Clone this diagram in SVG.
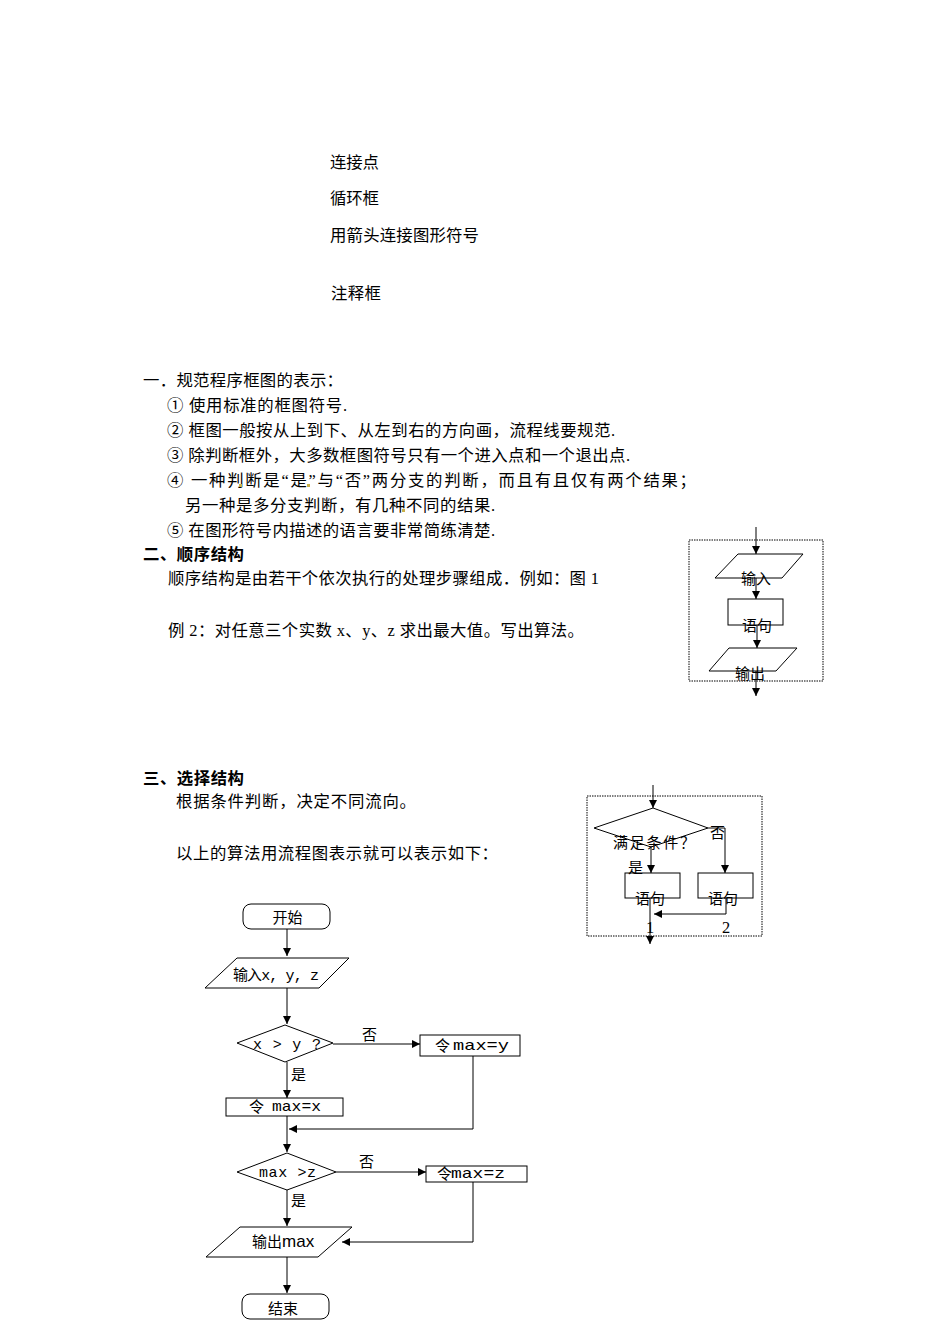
<svg xmlns="http://www.w3.org/2000/svg" width="950" height="1344" viewBox="0 0 950 1344">
<defs>
<style>
.t{font-family:"Liberation Serif","Noto Sans CJK SC",serif;font-size:16.4px;fill:#000}
.b{font-weight:bold}
.f{font-family:"Noto Sans CJK SC",sans-serif;font-size:15px;fill:#000}
.m{font-family:"Liberation Mono","Noto Sans CJK SC",monospace;font-size:15px;fill:#000}
.s{fill:#fff;stroke:#000;stroke-width:1}
.c{fill:none;stroke:#000;stroke-width:1}
.d{fill:none;stroke:#000;stroke-width:1;stroke-dasharray:1.5 1}
.dot{fill:#c9b04a}
</style>
<marker id="ah" viewBox="0 0 10 10" refX="10" refY="5" markerWidth="9" markerHeight="8" markerUnits="userSpaceOnUse" orient="auto">
<path d="M0,0 L10,5 L0,10 Z" fill="#000"/>
</marker>
</defs>
<rect width="950" height="1344" fill="#fff"/>

<g id="text-body">
<text class="t" x="330" y="168" textLength="49" lengthAdjust="spacing">连接点</text>
<text class="t" x="330" y="204" textLength="49" lengthAdjust="spacing">循环框</text>
<text class="t" x="330" y="241" textLength="149" lengthAdjust="spacing">用箭头连接图形符号</text>
<text class="t" x="331" y="299" textLength="50" lengthAdjust="spacing">注释框</text>
<text class="t" x="143" y="386" textLength="200" lengthAdjust="spacing">一．规范程序框图的表示：</text>
<text class="t" x="167" y="411" textLength="180" lengthAdjust="spacing">① 使用标准的框图符号.</text>
<text class="t" x="167" y="436" textLength="448" lengthAdjust="spacing">② 框图一般按从上到下、从左到右的方向画，流程线要规范.</text>
<text class="t" x="167" y="461" textLength="463" lengthAdjust="spacing">③ 除判断框外，大多数框图符号只有一个进入点和一个退出点.</text>
<text class="t" x="167" y="486" textLength="529" lengthAdjust="spacing">④ 一种判断是“是”与“否”两分支的判断，而且有且仅有两个结果；</text>
<text class="t" x="185" y="511" textLength="310" lengthAdjust="spacing">另一种是多分支判断，有几种不同的结果.</text>
<text class="t" x="167" y="536" textLength="328" lengthAdjust="spacing">⑤ 在图形符号内描述的语言要非常简练清楚.</text>
<rect class="dot" x="239" y="484" width="3" height="3"/>
<rect class="dot" x="307" y="484" width="3" height="3"/>
<rect class="dot" x="402" y="509" width="3" height="3"/>
<text class="t b" x="143" y="560" textLength="101" lengthAdjust="spacing">二、顺序结构</text>
<text class="t" x="168" y="584" textLength="431" lengthAdjust="spacing">顺序结构是由若干个依次执行的处理步骤组成．例如：图 1</text>
<text class="t" x="168" y="636" textLength="416" lengthAdjust="spacing">例 2：对任意三个实数 x、y、z 求出最大值。写出算法。</text>
<text class="t b" x="143" y="784" textLength="101" lengthAdjust="spacing">三、选择结构</text>
<text class="t" x="176" y="807" textLength="240" lengthAdjust="spacing">根据条件判断，决定不同流向。</text>
<text class="t" x="176" y="859" textLength="322" lengthAdjust="spacing">以上的算法用流程图表示就可以表示如下：</text>
</g>

<g id="fig1">
<rect class="d" x="689" y="540" width="134" height="141"/>
<g id="fig1-input"><polygon class="s" points="738,554 803,554 782,578 715,578"/><text class="f" x="756" y="584" font-size="15.5" text-anchor="middle">输入</text></g>
<g id="fig1-stmt"><rect class="s" x="728" y="599" width="55" height="26"/><text class="f" x="757" y="631" font-size="15.5" text-anchor="middle">语句</text></g>
<g id="fig1-output"><polygon class="s" points="729,648 797,648 776,671 709,671"/><text class="f" x="750" y="679" font-size="15.5" text-anchor="middle">输出</text></g>
<g id="fig1-connectors">
<line class="c" x1="756" y1="527" x2="756" y2="554" marker-end="url(#ah)"/>
<line class="c" x1="756" y1="578" x2="756" y2="599" marker-end="url(#ah)"/>
<line class="c" x1="757" y1="625" x2="757" y2="648" marker-end="url(#ah)"/>
<line class="c" x1="756" y1="671" x2="756" y2="696" marker-end="url(#ah)"/>
</g>
</g>

<g id="fig2">
<rect class="d" x="587" y="796" width="175" height="140"/>
<g id="fig2-cond"><polygon class="s" points="594,828 653,808 708,828 651,847"/><text class="f" x="613" y="848" textLength="82" lengthAdjust="spacing">满足条件？</text></g>
<g id="fig2-s1"><rect class="s" x="625" y="873" width="55" height="25"/><text class="f" x="650" y="904" font-size="15.5" text-anchor="middle">语句</text></g>
<g id="fig2-s2"><rect class="s" x="698" y="873" width="55" height="25"/><text class="f" x="723" y="904" font-size="15.5" text-anchor="middle">语句</text></g>
<text class="f" x="710" y="838">否</text>
<text class="f" x="628" y="873">是</text>
<text class="t" x="646" y="933">1</text>
<text class="t" x="722" y="933">2</text>
<g id="fig2-connectors">
<line class="c" x1="653" y1="785" x2="653" y2="808" marker-end="url(#ah)"/>
<polyline class="c" points="708,828 725,828 725,873" marker-end="url(#ah)"/>
<line class="c" x1="651" y1="847" x2="651" y2="873" marker-end="url(#ah)"/>
<polyline class="c" points="726,898 726,914 654,914" marker-end="url(#ah)"/>
<line class="c" x1="650" y1="898" x2="650" y2="944" marker-end="url(#ah)"/>
</g>
</g>

<g id="flowchart">
<g id="n-start"><rect class="s" x="243" y="904" width="87" height="25" rx="8"/><text class="f" x="287.5" y="922.5" font-size="17.5" text-anchor="middle">开始</text></g>
<g id="n-input"><polygon class="s" points="237,958 349,958 319,988 205,988"/><text class="f" x="233" y="980" textLength="86" lengthAdjust="spacing">输入<tspan class="m">x, y, z</tspan></text></g>
<g id="n-d1"><polygon class="s" points="237,1043 285,1025 333,1043 285,1062"/><text class="m" x="253" y="1049" textLength="68" lengthAdjust="spacing">x &gt; y ?</text></g>
<g id="n-maxy"><rect class="s" x="420" y="1035" width="100" height="21"/><text class="f" x="435" y="1051" font-size="14">令</text><text class="m" x="453" y="1050" font-size="16" textLength="56" lengthAdjust="spacingAndGlyphs">max=y</text></g>
<g id="n-maxx"><rect class="s" x="226" y="1098" width="117" height="18"/><text class="f" x="249" y="1112" font-size="14">令</text><text class="m" x="272" y="1111" font-size="16" textLength="49" lengthAdjust="spacingAndGlyphs">max=x</text></g>
<g id="n-d2"><polygon class="s" points="237,1172 287,1153 336,1172 287,1190"/><text class="m" x="259" y="1177" textLength="57" lengthAdjust="spacing">max &gt;z</text></g>
<g id="n-maxz"><rect class="s" x="426" y="1166" width="101" height="16"/><text class="f" x="437" y="1179" font-size="14">令</text><text class="m" x="451" y="1178" font-size="16" textLength="54" lengthAdjust="spacingAndGlyphs">max=z</text></g>
<g id="n-output"><polygon class="s" points="240,1227 352,1227 318,1257 206,1257"/><text class="f" x="252" y="1247" font-size="15.5">输出<tspan font-family="Liberation Sans" font-size="17">max</tspan></text></g>
<g id="n-end"><rect class="s" x="242" y="1294" width="87" height="25" rx="8"/><text class="f" x="283" y="1313.5" font-size="17.5" text-anchor="middle">结束</text></g>
<g id="labels">
<text class="f" x="362" y="1040">否</text>
<text class="f" x="291" y="1080">是</text>
<text class="f" x="359" y="1167">否</text>
<text class="f" x="291" y="1206">是</text>
</g>
<g id="connectors">
<line class="c" x1="287" y1="929" x2="287" y2="956" marker-end="url(#ah)"/>
<line class="c" x1="287" y1="988" x2="287" y2="1024" marker-end="url(#ah)"/>
<line class="c" x1="333" y1="1044" x2="420" y2="1044" marker-end="url(#ah)"/>
<line class="c" x1="287" y1="1062" x2="287" y2="1098" marker-end="url(#ah)"/>
<polyline class="c" points="473,1056 473,1129 289,1129" marker-end="url(#ah)"/>
<line class="c" x1="287" y1="1116" x2="287" y2="1152" marker-end="url(#ah)"/>
<line class="c" x1="336" y1="1172" x2="426" y2="1172" marker-end="url(#ah)"/>
<polyline class="c" points="473,1182 473,1242 342,1242" marker-end="url(#ah)"/>
<line class="c" x1="287" y1="1190" x2="287" y2="1226" marker-end="url(#ah)"/>
<line class="c" x1="287" y1="1257" x2="287" y2="1293" marker-end="url(#ah)"/>
</g>
</g>
</svg>
